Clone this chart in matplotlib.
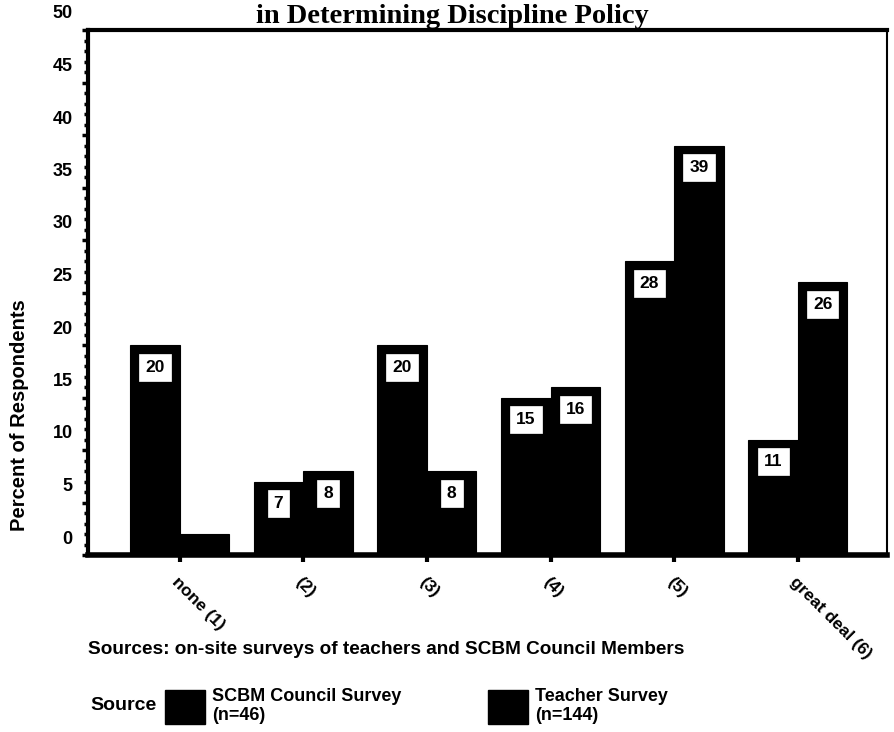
import matplotlib
matplotlib.use("Agg")
import matplotlib.pyplot as plt
import matplotlib.transforms as mtransforms
from matplotlib.patches import Patch
import numpy as np

categories = ["none (1)", "(2)", "(3)", "(4)", "(5)", "great deal (6)"]
scbm_values = [20, 7, 20, 15, 28, 11]
teacher_values = [2, 8, 8, 16, 39, 26]
scbm_labels = ["20", "7", "20", "15", "28", "11"]
teacher_labels = ["", "8", "8", "16", "39", "26"]
yticks = [0, 5, 10, 15, 20, 25, 30, 35, 40, 45, 50]

plt.rcParams['font.family'] = ['Liberation Sans', 'DejaVu Sans']

W, H = 894, 732
fig = plt.figure(figsize=(W / 100, H / 100), dpi=100)
ax = fig.add_axes([88 / W, 1 - 555 / H, (887 - 88) / W, (555 - 30) / H])

x = np.arange(len(categories))
bw = 0.40
b1 = ax.bar(x - bw / 2, scbm_values, width=bw, color="black", edgecolor="black", linewidth=0.8)
b2 = ax.bar(x + bw / 2, teacher_values, width=bw, color="black", edgecolor="black", linewidth=0.8)

for bars, labels in ((b1, scbm_labels), (b2, teacher_labels)):
    for rect, lab in zip(bars, labels):
        if not lab:
            continue
        ax.annotate(lab, (rect.get_x() + rect.get_width() / 2, rect.get_height()),
                    xytext=(0, -16), textcoords="offset points", ha="center", va="center",
                    fontsize=12.5, fontweight="bold", color="black",
                    bbox=dict(boxstyle="square,pad=0.35", fc="white", ec="white", lw=0.5))

ax.set_xlim(-0.74, 5.72)
ax.set_ylim(0, 50)
ax.set_yticks(yticks)
ax.set_yticklabels([str(t) for t in yticks], fontsize=13, fontweight="bold")
ax.set_yticks(np.arange(0, 51, 1), minor=True)
ax.tick_params(axis="y", which="major", length=4, width=2.5, direction="out", pad=7)
ax.tick_params(axis="y", which="minor", length=3, width=2.5, direction="out")
offset = mtransforms.ScaledTranslation(0, 18 / 100, fig.dpi_scale_trans)
for lbl in ax.get_yticklabels():
    lbl.set_transform(lbl.get_transform() + offset)

ax.set_xticks(x)
ax.set_xticklabels(categories, rotation=-45, ha="left", va="top",
                   rotation_mode="anchor", fontsize=12.5, fontweight="bold")
ax.tick_params(axis="x", length=5, width=3, direction="out", pad=9)

for side, lw in (("left", 3), ("top", 3), ("bottom", 4), ("right", 1.5)):
    ax.spines[side].set_linewidth(lw)

fig.text(452 / W, 1 - 23 / H, "in Determining Discipline Policy", ha="center", va="baseline",
         fontsize=20.5, fontweight="bold", family=["Liberation Serif", "DejaVu Serif"])

fig.text(20 / W, 1 - 415 / H, "Percent of Respondents", rotation=90, ha="center", va="center",
         fontsize=14.5, fontweight="bold")

fig.text(88 / W, 1 - 650 / H, "Sources: on-site surveys of teachers and SCBM Council Members",
         ha="left", va="center", fontsize=13.7, fontweight="bold")

fig.text(90 / W, 1 - 706 / H, "Source", ha="left", va="center", fontsize=14, fontweight="bold")
handles = [Patch(facecolor="black", edgecolor="black"), Patch(facecolor="black", edgecolor="black")]
leg = fig.legend(handles, ["SCBM Council Survey\n(n=46)", "Teacher Survey\n(n=144)"],
                 ncol=2, frameon=False, loc="center left",
                 bbox_to_anchor=(158 / W, 1 - 706 / H), borderaxespad=0, borderpad=0.4,
                 handlelength=2.2, handleheight=2.5, handletextpad=0.4, columnspacing=4.8,
                 prop=dict(size=13, weight="bold"), labelspacing=0.2)

fig.savefig("out.png", dpi=100)
